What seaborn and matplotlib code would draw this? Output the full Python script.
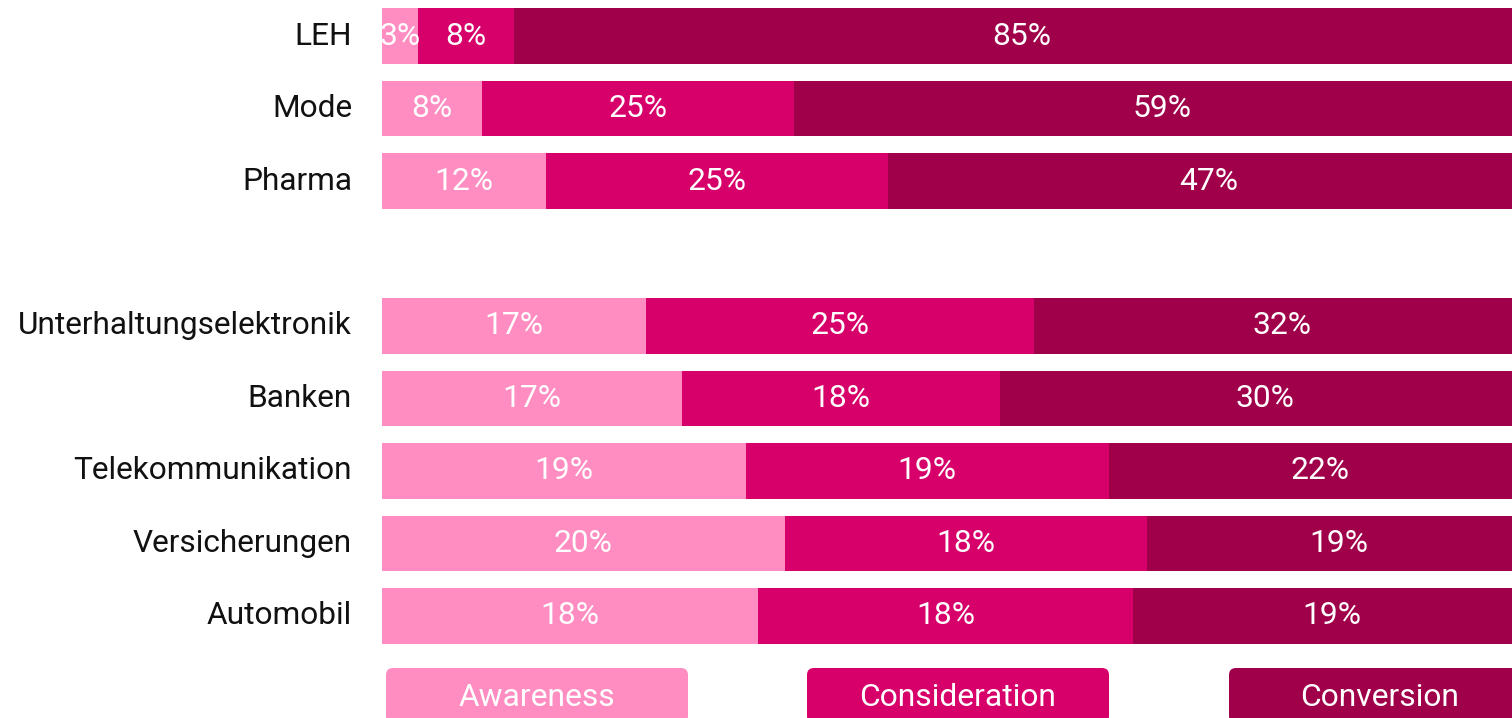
import numpy as np
import pandas as pd
import seaborn as sns
import matplotlib.pyplot as plt
from matplotlib.patches import FancyBboxPatch

# ---- data ----
categories = ["LEH", "Mode", "Pharma", "Unterhaltungselektronik", "Banken",
              "Telekommunikation", "Versicherungen", "Automobil"]
awareness = [3, 8, 12, 17, 17, 19, 20, 18]
consideration = [8, 25, 25, 25, 18, 19, 18, 18]
conversion = [85, 59, 47, 32, 30, 22, 19, 19]
series_names = ["Awareness", "Consideration", "Conversion"]
colors = ["#FF8DC1", "#D7006A", "#A0004A"]

# row order with an empty spacer slot after Pharma
row_order = categories[:3] + [""] + categories[3:]

sns.set_theme(style="white")
plt.rcParams["font.family"] = ["Roboto", "DejaVu Sans"]

vals = np.array([awareness, consideration, conversion], dtype=float)
norm = vals / vals.sum(axis=0) * 100
cum = np.cumsum(norm, axis=0)

fig = plt.figure(figsize=(15.12, 7.18), dpi=100)
ax = fig.add_axes([382 / 1512, 0, 1130 / 1512, 1])

# stacked bars drawn as overlapping cumulative totals (largest first)
for k in [2, 1, 0]:
    df = pd.DataFrame({"cat": categories, "val": cum[k]})
    sns.barplot(data=df, x="val", y="cat", order=row_order, orient="h",
                color=colors[k], saturation=1, width=0.772, linewidth=0,
                errorbar=None, ax=ax)

# value labels
for j, cat in enumerate(categories):
    ypos = row_order.index(cat)
    left = 0.0
    for k in range(3):
        w = norm[k, j]
        ax.text(left + w / 2, ypos, f"{int(vals[k, j])}%", ha="center",
                va="center", color="white", fontsize=22.9)
        left += w

ax.set_xlim(0, 100 * 1130 / 1148)
ax.set_ylim(9.407, -0.4966)
ax.set_xlabel("")
ax.set_ylabel("")
ax.set_xticks([])
ax.tick_params(axis="y", length=0, pad=21.6, labelsize=22.8, labelcolor="#111111")
for lbl in ax.get_yticklabels():
    lbl.set_verticalalignment("center")
sns.despine(ax=ax, left=True, bottom=True)

# legend boxes (display pixel coordinates)
box_x = [386, 807, 1229]
for name, col, x0 in zip(series_names, colors, box_x):
    p = FancyBboxPatch((x0, -5), 302, 55, boxstyle="round,pad=0,rounding_size=7",
                       facecolor=col, edgecolor="none", transform=None,
                       clip_on=False)
    fig.add_artist(p)
    fig.text((x0 + 151) / 1512, 23 / 718, name, ha="center",
             va="center_baseline", color="white", fontsize=22.9)

fig.savefig("out.png", dpi=100)
